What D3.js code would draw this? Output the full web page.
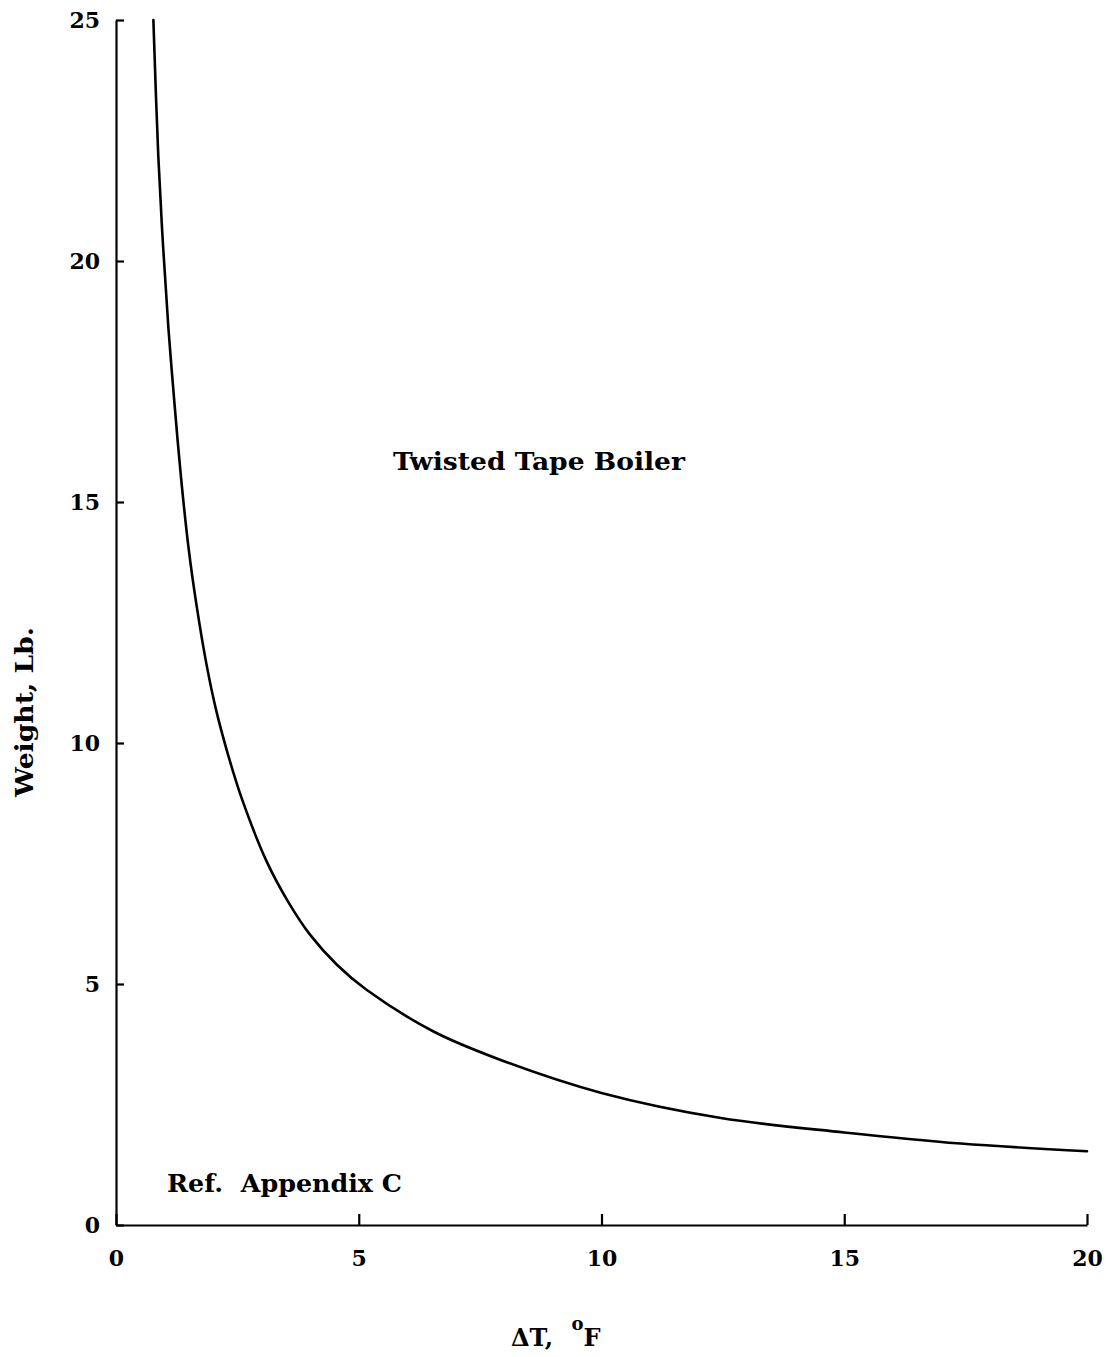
<!DOCTYPE html>
<html><head><meta charset="utf-8">
<script src="https://cdn.jsdelivr.net/npm/d3@7"></script>
<style>
html,body{margin:0;padding:0;background:#fff;}
text{font-family:"DejaVu Serif",serif;fill:#000;}
</style></head>
<body>
<svg id="chart" width="1119" height="1357"></svg>
<script>
// ΔT (°F) values along the curve
const deltaT = [0.77, 0.87, 0.97, 1.08, 1.2, 1.34, 1.5, 1.66, 1.87, 2.07, 2.31, 2.59, 3.1, 3.55, 4.0, 4.55, 5.16, 6.53, 7.91, 10, 12.46, 15, 17.4, 20];
// Weight (Lb.) values
const weight = [25.0, 22.2, 20.3, 18.6, 17.1, 15.5, 14.0, 12.85, 11.6, 10.65, 9.75, 8.85, 7.55, 6.7, 6.02, 5.4, 4.88, 4.02, 3.43, 2.74, 2.22, 1.92, 1.69, 1.53];
const xTicks = [0, 5, 10, 15, 20];
const yTicks = [0, 5, 10, 15, 20, 25];
const xTitle = "ΔT, ";
const yTitle = "Weight, Lb.";
const curveLabel = "Twisted Tape Boiler";
const refLabel = "Ref.  Appendix C";

const svg = d3.select("#chart");
const x = d3.scaleLinear().domain([0, 20]).range([116, 1087]);
const y = d3.scaleLinear().domain([0, 25]).range([1225, 20]);

// axes
const gx = svg.append("g").attr("transform", `translate(0,${y(0)})`)
  .call(d3.axisBottom(x).tickValues(xTicks).tickSizeInner(-11).tickSizeOuter(0).tickPadding(25).tickFormat(d3.format("d")));
const gy = svg.append("g").attr("transform", `translate(${x(0)},0)`)
  .call(d3.axisLeft(y).tickValues(yTicks).tickSizeInner(-8).tickSizeOuter(0).tickPadding(16).tickFormat(d3.format("d")));
[gx, gy].forEach(g => {
  g.select(".domain").attr("stroke", "#000").attr("stroke-width", 2.2);
  g.selectAll(".tick line").attr("stroke", "#000").attr("stroke-width", 2.2);
  g.selectAll(".tick text").attr("font-family", "DejaVu Serif").attr("font-weight", "bold").attr("font-size", 22).attr("fill", "#000");
});
gy.selectAll(".tick text").attr("dy", "0.35em");

// curve
const pts = deltaT.map((d, i) => [d, weight[i]]);
svg.append("path").datum(pts)
  .attr("fill", "none").attr("stroke", "#000").attr("stroke-width", 2.6)
  .attr("stroke-linecap", "round")
  .attr("d", d3.line().x(d => x(d[0])).y(d => y(d[1])).curve(d3.curveCatmullRom.alpha(0.5)));

// annotations
svg.append("text").attr("x", 539).attr("y", 470).attr("text-anchor", "middle")
  .attr("font-size", 24).attr("font-weight", "bold")
  .attr("textLength", 292).attr("lengthAdjust", "spacingAndGlyphs").text(curveLabel);
svg.append("text").attr("x", 167).attr("y", 1192).attr("text-anchor", "start")
  .attr("font-size", 24).attr("font-weight", "bold").attr("xml:space", "preserve")
  .attr("textLength", 235).attr("lengthAdjust", "spacingAndGlyphs").text(refLabel);

// axis titles
const xt = svg.append("text").attr("x", 511).attr("y", 1346).attr("font-size", 24).attr("font-weight", "bold");
xt.append("tspan").text(xTitle);
xt.append("tspan").attr("dx", 10).attr("dy", -16).attr("font-size", 18).text("o");
xt.append("tspan").attr("dx", 0).attr("dy", 16).text("F");

svg.append("text").attr("transform", "translate(33,712) rotate(-90)").attr("text-anchor", "middle")
  .attr("font-size", 24).attr("font-weight", "bold")
  .attr("textLength", 170).attr("lengthAdjust", "spacingAndGlyphs").text(yTitle);
</script>
</body></html>
